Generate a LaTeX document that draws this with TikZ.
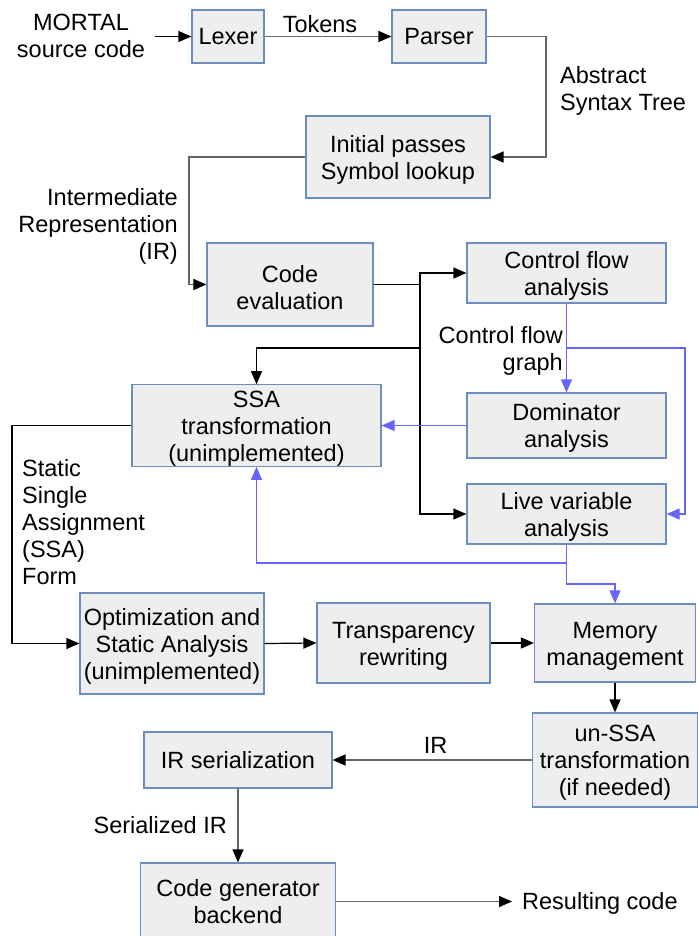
\documentclass[tikz,border=0pt]{standalone}
\usepackage{fontspec}
\setmainfont{Liberation Sans}
\usetikzlibrary{arrows.meta}
\definecolor{boxf}{HTML}{EEEEEE}
\definecolor{boxc}{HTML}{6C8EBF}
\definecolor{bluel}{HTML}{6666FF}
\definecolor{grayl}{HTML}{666666}
\newcommand\bst{\rule{0pt}{22.5pt}}
\begin{document}
\begin{tikzpicture}[x=1pt,y=-1pt,
  every node/.style={font=\fontsize{23.5}{27}\selectfont},
  box/.style={draw=boxc, fill=boxf, line width=1.2pt, align=center, inner sep=0pt},
  lbl/.style={inner sep=0pt},
  ark/.style={-{Triangle[length=13pt,width=11pt]}, line width=1.2pt, draw=black},
  arg/.style={-{Triangle[length=13pt,width=11pt,color=black]}, line width=1.5pt, draw=grayl},
  arb/.style={-{Triangle[length=13pt,width=11pt]}, line width=1.2pt, draw=bluel}]
\useasboundingbox (0,0) rectangle (697,936);
% boxes
\node[box, minimum width=72pt, minimum height=53pt] (lexer) at (228,36.5) {Lexer};
\node[box, minimum width=94pt, minimum height=53pt] (parser) at (439,36.5) {Parser};
\node[box, minimum width=184pt, minimum height=82pt] (init) at (398,157) {\bst Initial passes\\Symbol lookup};
\node[box, minimum width=166pt, minimum height=83pt] (ceval) at (290,284.5) {\bst Code\\evaluation};
\node[box, minimum width=199pt, minimum height=60pt] (cfa) at (566.5,273) {\bst Control flow\\analysis};
\node[box, minimum width=199pt, minimum height=65pt] (dom) at (566.5,425.5) {\bst Dominator\\analysis};
\node[box, minimum width=199pt, minimum height=60pt] (live) at (566.5,514) {\bst Live variable\\analysis};
\node[box, minimum width=249pt, minimum height=79pt] (ssa) at (256.5,425.5) {\bst SSA\\transformation\\(unimplemented)};
\node[box, minimum width=184pt, minimum height=101pt] (opt) at (172,643.5) {\bst Optimization and\\Static Analysis\\(unimplemented)};
\node[box, minimum width=173pt, minimum height=80pt] (trans) at (403.5,643) {\bst Transparency\\rewriting};
\node[box, minimum width=161pt, minimum height=78pt] (mem) at (615,643) {\bst Memory\\management};
\node[box, minimum width=165pt, minimum height=94pt] (unssa) at (615,760) {\bst un-SSA\\transformation\\(if needed)};
\node[box, minimum width=188pt, minimum height=56pt] (irser) at (238,760) {IR serialization};
\node[box, minimum width=195pt, minimum height=77pt] (cgen) at (238,901.5) {Code generator\\backend};
% labels
\node[lbl, align=center] (msrc) at (81,35.5) {MORTAL\\source code};
\node[lbl, anchor=base] (tok) at (320,33) {Tokens};
\node[lbl, align=left, anchor=west] (ast) at (560,90.5) {Abstract\\Syntax Tree};
\node[lbl, align=right, anchor=east] (irl) at (178,226) {Intermediate\\Representation\\(IR)};
\node[lbl, align=right, anchor=east] (cfg) at (563,350.5) {Control flow\\graph};
\node[lbl, align=left, anchor=west] (ssaf) at (22,522) {Static\\Single\\Assignment\\(SSA)\\Form};
\node[lbl, anchor=base] (irl2) at (435.5,753) {IR};
\node[lbl, anchor=base east] (sir) at (227,833) {Serialized IR};
\node[lbl, anchor=base west] (res) at (522,909) {Resulting code};
% coordinates
\coordinate (msrcend) at (155,36.5);
\coordinate (p1) at (546,157);
\coordinate (p2) at (189,284.5);
\coordinate (j1) at (420,284.5);
\coordinate (j2) at (420,348);
\coordinate (b1) at (566.5,348);
\coordinate (b2) at (685,348);
\coordinate (b3) at (566.5,563);
\coordinate (b4) at (566.5,584);
\coordinate (s1) at (12,425.5);
\coordinate (rc) at (512,901.5);
% connectors
\draw[ark] (msrcend) -- (lexer.west);
\draw[arg] (lexer.east) -- (parser.west);
\draw[arg] (parser.east) -| (p1) -- (init.east);
\draw[arg] (init.west) -| (p2) -- (ceval.west);
\draw[ark] (ceval.east) -- (j1) |- (cfa.west);
\draw[ark] (j1) |- (live.west);
\draw[ark] (j2) -| (ssa.north);
\draw[arb] (cfa.south) -- (dom.north);
\draw[arb] (b1) -- (b2) |- (live.east);
\draw[arb] (dom.west) -- (ssa.east);
\draw[arb] (live.south) -- (b4) -| (mem.north);
\draw[arb] (b3) -| (ssa.south);
\draw[ark] (ssa.west) -- (s1) |- (opt.west);
\draw[ark] (opt.east) -- (trans.west);
\draw[ark] (trans.east) -- (mem.west);
\draw[ark] (mem.south) -- (unssa.north);
\draw[arg] (unssa.west) -- (irser.east);
\draw[arg] (irser.south) -- (cgen.north);
\draw[arg] (cgen.east) -- (rc);
\end{tikzpicture}
\end{document}
